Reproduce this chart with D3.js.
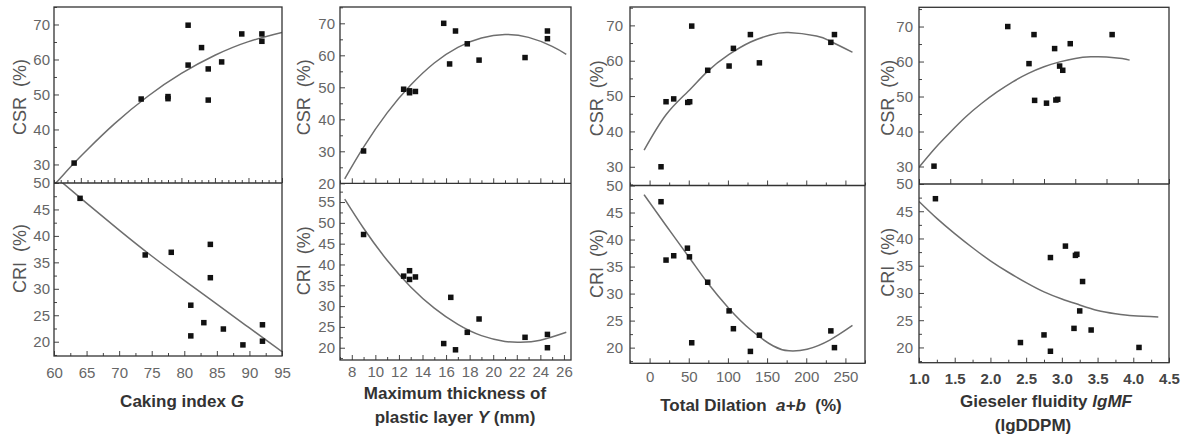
<!DOCTYPE html>
<html><head><meta charset="utf-8">
<script src="https://cdn.jsdelivr.net/npm/d3@7"></script>
<style>
body{margin:0;background:#fff}
text{font-family:"Liberation Sans",Arial,Helvetica,sans-serif}
</style>
</head><body>
<svg id="c" width="1186" height="436"></svg>
<script>
// ---------------- DATA ----------------
// Panel 1 : Caking index G
const p1TopX = [64,74,78,78,81,81,83,84,84,86,89,92,92];
const p1TopCSR = [30.4,48.7,49.4,48.8,69.8,58.4,63.4,57.3,48.4,59.3,67.3,67.3,65.2];
const p1BotX = [64,74,78,84,84,81,81,83,86,89,92,92];
const p1BotCRI = [47.1,36.4,36.9,38.4,32.1,26.9,21.1,23.6,22.4,19.4,23.2,20.1];
const p1FitTopX = [61,62,64,66,70,75,80,85,90,95];
const p1FitTopY = [24.1,26.2,30.4,34.3,41.6,49.5,56.0,61.2,65.1,67.7];
const p1FitBotX = [60,65,70,75,80,85,90,95];
const p1FitBotY = [51.4,46.2,41.1,36.2,31.6,27.1,22.6,18.1];

// Panel 2 : Maximum thickness of plastic layer Y (mm)
const p2TopX = [9.0,12.4,12.9,12.9,13.4,15.8,16.3,16.8,17.8,18.8,22.7,24.6,24.6];
const p2TopCSR = [30.1,49.4,48.3,48.9,48.7,70.0,57.3,67.6,63.6,58.5,59.3,67.6,65.2];
const p2BotX = [9.0,12.4,12.9,12.9,13.4,15.8,16.4,16.8,17.8,18.8,22.7,24.6,24.6];
const p2BotCRI = [47.2,37.2,38.5,36.4,37.0,21.0,32.1,19.5,23.7,26.9,22.5,23.2,20.0];
const p2FitTopX = [7.4,9,11,13,15,17,19,21,23,25,26.2];
const p2FitTopY = [21.4,31.3,42.0,50.7,57.6,62.5,65.4,66.5,65.6,62.8,60.3];
const p2FitBotX = [7.4,9,11,13,15,17,19,21,22.3,24,26.2];
const p2FitBotY = [55.7,48.7,41.0,34.6,29.5,25.6,22.9,21.5,21.3,21.8,23.7];

// Panel 3 : Total Dilation a+b (%)
const p3TopX = [14.6,21,30.8,48.7,51.2,53.8,74.2,101.5,107,128.7,140.2,231.4,236];
const p3TopCSR = [30.0,48.4,49.2,48.2,48.4,69.8,57.3,58.5,63.5,67.4,59.4,65.2,67.4];
const p3BotX = [14.6,21,30.8,48.3,50.9,53.8,74.2,101.5,107,128.7,140.2,231.4,236];
const p3BotCRI = [47.0,36.2,37.0,38.4,36.8,20.9,32.1,26.8,23.5,19.3,22.3,23.1,20.0];
const p3FitTopX = [-7,21,49,74,101,129,154,177,213,231,259];
const p3FitTopY = [34.7,44.7,51.3,57.0,61.7,65.3,67.3,68.0,67.0,65.5,62.4];
const p3FitBotX = [-7,21,52,74,101,129,158,178,201,230,259];
const p3FitBotY = [48.3,42.6,36.4,32.0,27.3,23.3,20.3,19.4,19.7,21.4,24.1];

// Panel 4 : Gieseler fluidity lgMF
const p4TopX = [1.24,2.42,2.76,2.84,2.85,3.04,3.17,3.19,3.22,3.25,3.30,3.42,4.09];
const p4TopCSR = [30.1,70.0,59.4,67.7,48.9,48.1,63.7,49.0,49.2,58.7,57.5,65.1,67.7];
const p4BotX = [1.23,2.42,2.75,2.84,2.84,3.05,3.17,3.19,3.21,3.25,3.29,3.41,4.08];
const p4BotCRI = [47.3,20.9,22.3,36.5,19.3,38.6,23.5,36.9,37.1,26.7,32.1,23.2,20.0];
const p4FitTopX = [1.0,1.25,1.5,1.75,2.0,2.25,2.5,2.75,3.0,3.25,3.5,3.75,4.0,4.25,4.37];
const p4FitTopY = [29.8,35.1,39.8,44.2,48.0,51.3,54.2,56.6,58.5,59.9,60.9,61.35,61.33,60.85,60.4];
const p4FitBotX = [1.0,1.25,1.5,1.75,2.0,2.25,2.5,2.75,3.0,3.25,3.5,3.75,4.0,4.35];
const p4FitBotY = [46.8,43.7,40.9,38.3,35.9,33.8,31.9,30.2,28.9,27.8,26.8,26.2,25.8,25.6];

// Tick labels
const csrTicks = [30,40,50,60,70];
const csrTicks2 = [20,30,40,50,60,70];
const criTicks = [20,25,30,35,40,45,50];
const criTicks2 = [20,25,30,35,40,45,50,55];
const p1XTicks = [60,65,70,75,80,85,90,95];
const p2XTicks = [8,10,12,14,16,18,20,22,24,26];
const p3XTicks = [0,50,100,150,200,250];
const p4XTicks = [1.0,1.5,2.0,2.5,3.0,3.5,4.0,4.5];

// ---------------- LAYOUT ----------------
const zip = (a,b) => a.map((v,i)=>[v,b[i]]);
const panels = [
  {L:54,R:282,T:7,M:183,B:356, xTop:[61,95], xBot:[60,95], yTop:[24.7,75], yBot:[17.3,50],
   top:zip(p1TopX,p1TopCSR), bot:zip(p1BotX,p1BotCRI), fitTop:zip(p1FitTopX,p1FitTopY), fitBot:zip(p1FitBotX,p1FitBotY),
   yTopTicks:csrTicks, yTopMinor:5, yBotTicks:criTicks, yBotMinor:2.5, xTicks:p1XTicks, xMinor:2.5, divMinor:1, divMajor:5,
   yPad:4, xPad:11, titleX:20, fmt:d3.format("d"), xBold:false},
  {L:340,R:571,T:7,M:183.3,B:360, xTop:[7,26.6], xBot:[7,26.6], yTop:[20,75.1], yBot:[17.05,59.5],
   top:zip(p2TopX,p2TopCSR), bot:zip(p2BotX,p2BotCRI), fitTop:zip(p2FitTopX,p2FitTopY), fitBot:zip(p2FitBotX,p2FitBotY),
   yTopTicks:csrTicks2, yTopMinor:5, yBotTicks:criTicks2, yBotMinor:2.5, xTicks:p2XTicks, xMinor:1, divMinor:1, divMajor:2,
   yPad:5, xPad:6.2, titleX:304, fmt:d3.format("d"), xBold:false},
  {L:630,R:865,T:7,M:185.5,B:363.3, xTop:[-25,275], xBot:[-25,275], yTop:[24.7,75.2], yBot:[17.1,50],
   top:zip(p3TopX,p3TopCSR), bot:zip(p3BotX,p3BotCRI), fitTop:zip(p3FitTopX,p3FitTopY), fitBot:zip(p3FitBotX,p3FitBotY),
   yTopTicks:csrTicks, yTopMinor:5, yBotTicks:criTicks, yBotMinor:2.5, xTicks:p3XTicks, xMinor:25, divMinor:25, divMajor:50,
   yPad:7, xPad:8.5, titleX:597, fmt:d3.format("d"), xBold:false},
  {L:919,R:1169,T:7.3,M:184,B:362.7, xTop:[1,5], xBot:[1,4.5], yTop:[25,75.5], yBot:[17.2,50],
   top:zip(p4TopX,p4TopCSR), bot:zip(p4BotX,p4BotCRI), fitTop:zip(p4FitTopX,p4FitTopY), fitBot:zip(p4FitBotX,p4FitBotY),
   yTopTicks:csrTicks, yTopMinor:5, yBotTicks:criTicks, yBotMinor:2.5, xTicks:p4XTicks, xMinor:0.25, divMinor:0.5, divMajor:0.5,
   yPad:6, xPad:10.8, titleX:888, fmt:d3.format(".1f"), xBold:true}
];

const svg = d3.select("#c");
const TICK_COL = "#444", LBL_COL = "#666";

function range(dom, step){ // tick positions within a domain at multiples of step
  const out=[]; const s=Math.ceil(dom[0]/step-1e-9); const e=Math.floor(dom[1]/step+1e-9);
  for(let k=s;k<=e;k++) out.push(+(k*step).toFixed(6));
  return out;
}
function styleAxis(sel, bold){
  sel.select(".domain").remove();
  sel.selectAll(".tick line").attr("stroke",TICK_COL).attr("stroke-width",1);
  sel.selectAll(".tick text").attr("fill",bold?"#444":LBL_COL).attr("font-size",15)
     .attr("font-weight",bold?"bold":"normal").attr("font-family","'Liberation Sans',Arial,sans-serif");
}

panels.forEach((p,i)=>{
  const g = svg.append("g");
  const xT = d3.scaleLinear().domain(p.xTop).range([p.L,p.R]);
  const xB = d3.scaleLinear().domain(p.xBot).range([p.L,p.R]);
  const yT = d3.scaleLinear().domain(p.yTop).range([p.M,p.T]);
  const yB = d3.scaleLinear().domain(p.yBot).range([p.B,p.M]);

  const defs = svg.append("defs");
  defs.append("clipPath").attr("id","ct"+i).append("rect").attr("x",p.L).attr("y",p.T).attr("width",p.R-p.L).attr("height",p.M-p.T);
  defs.append("clipPath").attr("id","cb"+i).append("rect").attr("x",p.L).attr("y",p.M).attr("width",p.R-p.L).attr("height",p.B-p.M);

  // fitted curves
  const lineT = d3.line().x(d=>xT(d[0])).y(d=>yT(d[1])).curve(d3.curveNatural);
  const lineB = d3.line().x(d=>xB(d[0])).y(d=>yB(d[1])).curve(d3.curveNatural);
  g.append("path").attr("d",lineT(p.fitTop)).attr("fill","none").attr("stroke","#6e6e6e").attr("stroke-width",1.5).attr("clip-path",`url(#ct${i})`);
  g.append("path").attr("d",lineB(p.fitBot)).attr("fill","none").attr("stroke","#6e6e6e").attr("stroke-width",1.5).attr("clip-path",`url(#cb${i})`);

  // points
  const S=5.5;
  g.selectAll(null).data(p.top).join("rect").attr("x",d=>xT(d[0])-S/2).attr("y",d=>yT(d[1])-S/2).attr("width",S).attr("height",S).attr("fill","#111");
  g.selectAll(null).data(p.bot).join("rect").attr("x",d=>xB(d[0])-S/2).attr("y",d=>yB(d[1])-S/2).attr("width",S).attr("height",S).attr("fill","#111");

  // y axes (ticks inward)
  const yTopMinor = range(p.yTop,p.yTopMinor).filter(v=>!p.yTopTicks.includes(v));
  g.append("g").attr("transform",`translate(${p.L},0)`).call(d3.axisLeft(yT).tickValues(yTopMinor).tickSizeInner(-3).tickSizeOuter(0).tickFormat("")).call(styleAxis);
  g.append("g").attr("transform",`translate(${p.L},0)`).call(d3.axisLeft(yT).tickValues(p.yTopTicks).tickSizeInner(-5).tickSizeOuter(0).tickPadding(p.yPad).tickFormat(d3.format("d"))).call(styleAxis);
  const yBotMinor = range(p.yBot,p.yBotMinor).filter(v=>!p.yBotTicks.includes(v));
  g.append("g").attr("transform",`translate(${p.L},0)`).call(d3.axisLeft(yB).tickValues(yBotMinor).tickSizeInner(-3).tickSizeOuter(0).tickFormat("")).call(styleAxis);
  g.append("g").attr("transform",`translate(${p.L},0)`).call(d3.axisLeft(yB).tickValues(p.yBotTicks).tickSizeInner(-5).tickSizeOuter(0).tickPadding(p.yPad).tickFormat(d3.format("d"))).call(styleAxis);

  // bottom x axis (ticks inward)
  const xMinor = range(p.xBot,p.xMinor).filter(v=>!p.xTicks.includes(v));
  g.append("g").attr("transform",`translate(0,${p.B})`).call(d3.axisBottom(xB).tickValues(xMinor).tickSizeInner(-3).tickSizeOuter(0).tickFormat("")).call(styleAxis);
  g.append("g").attr("transform",`translate(0,${p.B})`).call(d3.axisBottom(xB).tickValues(p.xTicks).tickSizeInner(-5).tickSizeOuter(0).tickPadding(p.xPad).tickFormat(p.fmt)).call(s=>styleAxis(s,p.xBold));

  // divider ticks (pointing up into the upper plot)
  const divAll = range(p.xTop,p.divMinor);
  const divMaj = divAll.filter(v=>Math.abs(v/p.divMajor-Math.round(v/p.divMajor))<1e-6);
  const divMin = divAll.filter(v=>!divMaj.includes(v));
  g.append("g").attr("transform",`translate(0,${p.M})`).call(d3.axisTop(xT).tickValues(divMin).tickSizeInner(3).tickSizeOuter(0).tickFormat("")).call(styleAxis);
  g.append("g").attr("transform",`translate(0,${p.M})`).call(d3.axisTop(xT).tickValues(divMaj).tickSizeInner(5).tickSizeOuter(0).tickFormat("")).call(styleAxis);

  // frame and divider
  g.append("rect").attr("x",p.L).attr("y",p.T).attr("width",p.R-p.L).attr("height",p.B-p.T).attr("fill","none").attr("stroke","#333").attr("stroke-width",1.3);
  g.append("line").attr("x1",p.L).attr("x2",p.R).attr("y1",p.M).attr("y2",p.M).attr("stroke","#333").attr("stroke-width",1.3);

  // y titles
  const yTitle = (cy, label) => g.append("text").attr("transform",`translate(${p.titleX},${cy}) rotate(-90)`)
     .attr("text-anchor","middle").attr("dy","0.35em").attr("font-size",18).attr("fill","#555").style("white-space","pre").text(label);
  yTitle((p.T+p.M)/2+2, "CSR  (%)");
  yTitle((p.M+p.B)/2-11, "CRI  (%)");
});

// x titles
function xTitle(cx, cy, parts){
  const t = svg.append("text").attr("x",cx).attr("y",cy).attr("dy","0.35em").attr("text-anchor","middle")
    .attr("font-size",17).attr("font-weight","bold").attr("fill","#333").style("white-space","pre");
  parts.forEach(([s,it])=>t.append("tspan").attr("font-style",it?"italic":"normal").text(s));
}
xTitle(182, 401, [["Caking index ",false],["G",true]]);
xTitle(455, 393, [["Maximum thickness of",false]]);
xTitle(455, 417, [["plastic layer ",false],["Y",true],[" (mm)",false]]);
xTitle(751, 405, [["Total Dilation  ",false],["a+b",true],["  (%)",false]]);
xTitle(1046, 401, [["Gieseler fluidity ",false],["lgMF",true]]);
xTitle(1033, 425, [["(lgDDPM)",false]]);
</script>
</body></html>
